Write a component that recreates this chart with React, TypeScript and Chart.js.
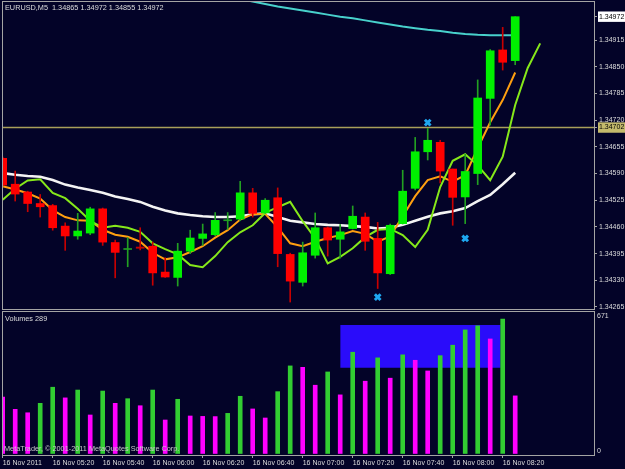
import React, { useEffect, useRef } from 'react';
import { Chart, registerables } from 'chart.js';

Chart.register(...registerables);

// ---------- data ----------
const SYMBOL = 'EURUSD,M5';

const OPEN = [1.34627, 1.34564, 1.34545, 1.34517, 1.34512, 1.34462, 1.34438, 1.34445, 1.34504, 1.34422, 1.34405, 1.34411, 1.34413, 1.34350, 1.34337, 1.34401, 1.34432, 1.34441, 1.34475, 1.34479, 1.34543, 1.34494, 1.34531, 1.34393, 1.34325, 1.34391, 1.34458, 1.34430, 1.34456, 1.34484, 1.34432, 1.34346, 1.34468, 1.34554, 1.34643, 1.34666, 1.34601, 1.34533, 1.34590, 1.34773, 1.34891, 1.34865];
const HIGH = [1.34630, 1.34596, 1.34547, 1.34539, 1.34515, 1.34470, 1.34493, 1.34508, 1.34506, 1.34428, 1.34434, 1.34458, 1.34423, 1.34385, 1.34420, 1.34452, 1.34467, 1.34495, 1.34495, 1.34571, 1.34554, 1.34529, 1.34555, 1.34396, 1.34423, 1.34494, 1.34460, 1.34466, 1.34511, 1.34494, 1.34471, 1.34467, 1.34598, 1.34678, 1.34700, 1.34671, 1.34601, 1.34637, 1.34818, 1.34892, 1.34946, 1.34972];
const LOW = [1.34559, 1.34523, 1.34497, 1.34484, 1.34452, 1.34403, 1.34430, 1.34441, 1.34415, 1.34336, 1.34363, 1.34404, 1.34318, 1.34337, 1.34316, 1.34395, 1.34415, 1.34438, 1.34454, 1.34475, 1.34484, 1.34493, 1.34363, 1.34277, 1.34316, 1.34384, 1.34389, 1.34384, 1.34455, 1.34403, 1.34310, 1.34344, 1.34467, 1.34550, 1.34623, 1.34567, 1.34464, 1.34468, 1.34563, 1.34708, 1.34842, 1.34855];
const CLOSE = [1.34562, 1.34540, 1.34517, 1.34509, 1.34458, 1.34438, 1.34450, 1.34504, 1.34423, 1.34398, 1.34407, 1.34408, 1.34348, 1.34338, 1.34401, 1.34433, 1.34443, 1.34476, 1.34477, 1.34543, 1.34493, 1.34525, 1.34395, 1.34328, 1.34397, 1.34458, 1.34428, 1.34448, 1.34486, 1.34425, 1.34348, 1.34464, 1.34547, 1.34643, 1.34671, 1.34596, 1.34532, 1.34595, 1.34774, 1.34889, 1.34861, 1.34972];
const VOLUME = [283, 222, 205, 252, 332, 279, 318, 194, 313, 252, 275, 240, 318, 169, 272, 189, 187, 186, 202, 287, 224, 179, 310, 438, 431, 342, 408, 294, 506, 362, 478, 377, 493, 466, 413, 489, 541, 617, 637, 572, 671, 289];

// moving averages
const MA_CYAN_START = 19;
const MA_CYAN = [1.35015, 1.35009, 1.35003, 1.34997, 1.34992, 1.34987, 1.34982, 1.34977, 1.34972, 1.34968, 1.34963, 1.34958, 1.34953, 1.34948, 1.34944, 1.34940, 1.34937, 1.34933, 1.34930, 1.34928, 1.34927, 1.34927, 1.34927];
const MA_WHITE = [1.34591, 1.34587, 1.34584, 1.34582, 1.34574, 1.34563, 1.34556, 1.34550, 1.34543, 1.34534, 1.34528, 1.34521, 1.34509, 1.34500, 1.34493, 1.34489, 1.34486, 1.34484, 1.34484, 1.34486, 1.34491, 1.34493, 1.34484, 1.34475, 1.34471, 1.34467, 1.34465, 1.34464, 1.34462, 1.34460, 1.34456, 1.34458, 1.34465, 1.34475, 1.34485, 1.34493, 1.34498, 1.34506, 1.34523, 1.34538, 1.34564, 1.34592];
const MA_ORANGE = [1.34559, 1.34551, 1.34542, 1.34529, 1.34501, 1.34484, 1.34476, 1.34475, 1.34453, 1.34441, 1.34436, 1.34424, 1.34397, 1.34381, 1.34386, 1.34399, 1.34413, 1.34434, 1.34452, 1.34478, 1.34491, 1.34492, 1.34459, 1.34420, 1.34413, 1.34424, 1.34433, 1.34440, 1.34450, 1.34443, 1.34424, 1.34437, 1.34486, 1.34535, 1.34574, 1.34583, 1.34570, 1.34586, 1.34652, 1.34715, 1.34769, 1.34836];
// shifted two bars forward
const MA_GREEN = [1.34526, 1.34553, 1.34573, 1.34576, 1.34543, 1.34530, 1.34504, 1.34475, 1.34458, 1.34463, 1.34458, 1.34448, 1.34420, 1.34406, 1.34393, 1.34367, 1.34362, 1.34389, 1.34423, 1.34447, 1.34464, 1.34494, 1.34508, 1.34521, 1.34474, 1.34432, 1.34371, 1.34387, 1.34408, 1.34435, 1.34453, 1.34455, 1.34440, 1.34411, 1.34453, 1.34557, 1.34621, 1.34637, 1.34610, 1.34574, 1.34631, 1.34757, 1.34847, 1.34907];

const MARKER_BARS = [30, 34, 37];
const MARKER_PRICES = [1.34289, 1.34714, 1.34432];

const HLINE_PRICE = 1.34702;

const PRICE_TICKS = [1.34265, 1.34330, 1.34395, 1.34460, 1.34525, 1.34590, 1.34655, 1.34720, 1.34785, 1.34850, 1.34915];
const TIME_TICKS = [0, 4, 8, 12, 16, 20, 24, 28, 32, 36, 40];
const TIME_LABELS = ['16 Nov 2011', '16 Nov 05:20', '16 Nov 05:40', '16 Nov 06:00', '16 Nov 06:20', '16 Nov 06:40', '16 Nov 07:00', '16 Nov 07:20', '16 Nov 07:40', '16 Nov 08:00', '16 Nov 08:20'];

const VOLUME_BOX_FROM = 27;
const VOLUME_BOX_TO = 39.84;
const VOLUME_BOX_LOW = 429;
const VOLUME_BOX_HIGH = 642;

// ---------- axis ranges ----------
const X_MIN = -0.056;
const X_MAX = 47.304;
const Y_MIN = 1.342601;
const Y_MAX = 1.350102;
const V_MIN = -5;
const V_MAX = 711;

// ---------- styles ----------
const BG = '#030328';
const FRAME = '#a4a4a4';
const TEXT = '#dcdcdc';
const BULL = '#00f000';
const BEAR = '#ff0000';
const BULL_WICK = '#22a022';
const BEAR_WICK = '#c80000';
const VOL_UP = '#32cd32';
const VOL_DOWN = '#ff00ff';
const FONT_FAMILY = "'Liberation Sans', Arial, sans-serif";
const FONT = { family: FONT_FAMILY, size: 7 };
const LABEL_SIZE = 7.3;

const LAST = CLOSE.length - 1;
const LAST_CLOSE = CLOSE[LAST];
const fmt = (v: number) => v.toFixed(5);
const BARS = OPEN.map((_, i) => i);
const isBull = (i: number) => CLOSE[i] >= OPEN[i];
const isDoji = (i: number) => Math.abs(CLOSE[i] - OPEN[i]) < 0.000035;
const VOL_COLORS = VOLUME.map((v, i) => (i > 0 && v > VOLUME[i - 1] ? VOL_UP : VOL_DOWN));
const VOL_TOP = Math.max(...VOLUME);

const framePlugin = {
  id: 'frame',
  afterDatasetsDraw(chart: any) {
    const { ctx, chartArea: a } = chart;
    ctx.save();
    ctx.strokeStyle = FRAME;
    ctx.lineWidth = 1;
    ctx.strokeRect(a.left + 0.5, a.top + 0.5, a.right - a.left, a.bottom - a.top);
    ctx.restore();
  },
};

const textPlugin = (id: string, items: { text: string; dx: number; dy: number; color: string }[]) => ({
  id,
  afterDraw(chart: any) {
    const { ctx, chartArea: a } = chart;
    ctx.save();
    ctx.font = `${LABEL_SIZE}px ${FONT_FAMILY}`;
    ctx.textBaseline = 'middle';
    ctx.textAlign = 'left';
    items.forEach((it) => {
      ctx.fillStyle = it.color;
      ctx.fillText(it.text, a.left + it.dx, a.top + it.dy);
    });
    ctx.restore();
  },
});

function priceConfig(): any {
  const line = (data: { x: number; y: number }[], color: string, width: number, order: number) => ({
    type: 'line',
    data,
    borderColor: color,
    borderWidth: width,
    pointRadius: 0,
    tension: 0,
    fill: false,
    clip: 0,
    order,
  });
  return {
    type: 'bar',
    data: {
      datasets: [
        line([{ x: X_MIN - 1, y: HLINE_PRICE }, { x: X_MAX + 1, y: HLINE_PRICE }], '#a89f5a', 1.6, 10),
        line(MA_CYAN.map((y, k) => ({ x: MA_CYAN_START + k, y })), '#48d1cc', 2, 9),
        line(MA_WHITE.map((y, i) => ({ x: i, y })), '#f4f4f4', 2.6, 8),
        line(MA_ORANGE.map((y, i) => ({ x: i, y })), '#ff9f10', 2, 7),
        line(MA_GREEN.map((y, i) => ({ x: i, y })), '#86e81a', 2, 6),
        {
          type: 'bar',
          data: BARS.map((i) => ({ x: i, y: [LOW[i], HIGH[i]] })),
          backgroundColor: BARS.map((i) => (isBull(i) ? BULL_WICK : BEAR_WICK)),
          barThickness: 1,
          grouped: false,
          clip: 0,
          order: 5,
        },
        {
          type: 'bar',
          data: BARS.map((i) => ({ x: i, y: [OPEN[i], CLOSE[i]] })),
          backgroundColor: BARS.map((i) =>
            isDoji(i) ? (isBull(i) ? BULL_WICK : BEAR_WICK) : isBull(i) ? BULL : BEAR
          ),
          barThickness: 8,
          minBarLength: 1,
          grouped: false,
          clip: 0,
          order: 4,
        },
        {
          type: 'line',
          data: MARKER_BARS.map((b, k) => ({ x: b, y: MARKER_PRICES[k] })),
          showLine: false,
          pointStyle: 'crossRot',
          pointRadius: 4,
          pointBorderWidth: 3,
          pointBorderColor: '#1ea7f0',
          pointBackgroundColor: '#1ea7f0',
          clip: 0,
          order: 1,
        },
      ],
    },
    options: {
      responsive: false,
      animation: false,
      devicePixelRatio: 1,
      events: [],
      layout: { autoPadding: false, padding: { left: 2, top: 1, right: 0, bottom: 2 } },
      plugins: { legend: { display: false }, tooltip: { enabled: false }, title: { display: false } },
      scales: {
        x: { type: 'linear', display: false, min: X_MIN, max: X_MAX, offset: false },
        y: {
          type: 'linear',
          position: 'right',
          min: Y_MIN,
          max: Y_MAX,
          beginAtZero: false,
          afterBuildTicks: (s: any) => {
            s.ticks = [...PRICE_TICKS, HLINE_PRICE, LAST_CLOSE].map((v) => ({ value: v }));
          },
          afterFit: (s: any) => {
            s.width = 31;
            s.paddingTop = 0;
            s.paddingBottom = 0;
          },
          ticks: {
            autoSkip: false,
            padding: 2,
            font: FONT,
            callback: (v: any) => fmt(Number(v)),
            color: (c: any) => (c.tick && (c.tick.value === LAST_CLOSE || c.tick.value === HLINE_PRICE) ? '#000000' : TEXT),
            showLabelBackdrop: (c: any) => !!c.tick && (c.tick.value === LAST_CLOSE || c.tick.value === HLINE_PRICE),
            backdropColor: (c: any) => (c.tick && c.tick.value === LAST_CLOSE ? '#ffffff' : '#c4ba6c'),
            backdropPadding: { x: 1, y: 1 },
          },
          grid: { drawOnChartArea: false, drawTicks: true, tickLength: 3, color: FRAME },
          border: { display: false },
        },
      },
    },
    plugins: [
      framePlugin,
      textPlugin('title', [
        { text: `${SYMBOL}  ${fmt(OPEN[LAST])} ${fmt(HIGH[LAST])} ${fmt(LOW[LAST])} ${fmt(CLOSE[LAST])}`, dx: 3, dy: 7, color: TEXT },
      ]),
    ],
  };
}

function volumeConfig(): any {
  return {
    type: 'bar',
    data: {
      datasets: [
        {
          type: 'line',
          data: [
            { x: VOLUME_BOX_FROM, y: VOLUME_BOX_HIGH },
            { x: VOLUME_BOX_TO, y: VOLUME_BOX_HIGH },
          ],
          fill: { value: VOLUME_BOX_LOW },
          backgroundColor: '#2a0cfa',
          borderColor: '#2a0cfa',
          borderWidth: 0,
          pointRadius: 0,
          tension: 0,
          clip: 0,
          order: 5,
        },
        {
          type: 'bar',
          data: VOLUME.map((v, i) => ({ x: i, y: v })),
          backgroundColor: VOL_COLORS,
          barThickness: 4,
          grouped: false,
          clip: 0,
          order: 1,
        },
      ],
    },
    options: {
      responsive: false,
      animation: false,
      devicePixelRatio: 1,
      events: [],
      layout: { autoPadding: false, padding: { left: 2, top: 0, right: 0, bottom: 0 } },
      plugins: { legend: { display: false }, tooltip: { enabled: false }, title: { display: false } },
      scales: {
        x: {
          type: 'linear',
          position: 'bottom',
          min: X_MIN,
          max: X_MAX,
          offset: false,
          afterBuildTicks: (s: any) => {
            s.ticks = TIME_TICKS.map((v) => ({ value: v }));
          },
          afterFit: (s: any) => {
            s.height = 14;
            s.paddingLeft = 0;
            s.paddingRight = 0;
          },
          ticks: {
            autoSkip: false,
            maxRotation: 0,
            minRotation: 0,
            align: 'start',
            padding: 1,
            font: FONT,
            color: TEXT,
            callback: (_v: any, idx: number) => TIME_LABELS[idx],
          },
          grid: { drawOnChartArea: false, drawTicks: true, tickLength: 3, color: FRAME, offset: false },
          border: { display: false },
        },
        y: {
          type: 'linear',
          position: 'right',
          min: V_MIN,
          max: V_MAX,
          beginAtZero: false,
          afterBuildTicks: (s: any) => {
            s.ticks = [0, VOL_TOP].map((v) => ({ value: v }));
          },
          afterFit: (s: any) => {
            s.width = 31;
            s.paddingTop = 0;
            s.paddingBottom = 0;
          },
          ticks: { autoSkip: false, padding: 3, labelOffset: -3, font: FONT, color: TEXT },
          grid: { drawOnChartArea: false, drawTicks: false },
          border: { display: false },
        },
      },
    },
    plugins: [
      framePlugin,
      textPlugin('volLabels', [
        { text: `Volumes ${VOLUME[LAST]}`, dx: 3, dy: 8, color: TEXT },
        { text: 'MetaTrader, © 2001-2011 MetaQuotes Software Corp.', dx: 2, dy: 138, color: '#c8c8c8' },
      ]),
    ],
  };
}

export default function App() {
  const priceRef = useRef<HTMLCanvasElement>(null);
  const volRef = useRef<HTMLCanvasElement>(null);
  useEffect(() => {
    const c1 = new Chart(priceRef.current as HTMLCanvasElement, priceConfig());
    const c2 = new Chart(volRef.current as HTMLCanvasElement, volumeConfig());
    return () => {
      c1.destroy();
      c2.destroy();
    };
  }, []);
  return (
    <div style={{ position: 'fixed', left: 0, top: 0, width: 625, height: 469, background: BG, overflow: 'hidden' }}>
      <canvas ref={priceRef} width={625} height={311} style={{ position: 'absolute', left: 0, top: 0, width: 625, height: 311 }} />
      <canvas ref={volRef} width={625} height={158} style={{ position: 'absolute', left: 0, top: 311, width: 625, height: 158 }} />
    </div>
  );
}
